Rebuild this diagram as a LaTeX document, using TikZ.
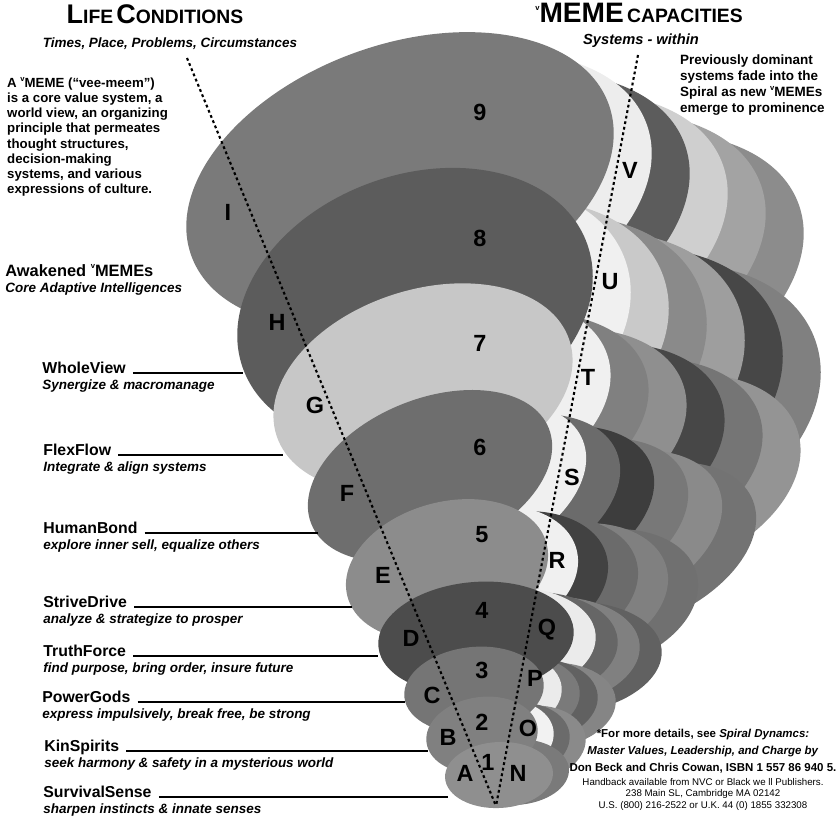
\documentclass[tikz,border=0pt]{standalone}
\usepackage{fontspec}
\setmainfont{Liberation Sans}
\usetikzlibrary{positioning}

\newcommand{\vsup}{\raisebox{0.45em}{\fontsize{6.5}{7}\selectfont v}} % the little v in front of MEME
\newcommand{\capbig}[1]{{\fontsize{23}{24}\selectfont #1}}
\newcommand{\capsmall}[1]{{\fontsize{16.5}{18}\selectfont #1}}

\tikzset{
    heading/.style={font=\bfseries, inner sep=0pt}, % the two column titles
    heading note/.style={font=\bfseries\itshape\fontsize{11.5}{13}\selectfont, inner sep=0pt}, % italic line under a title
    blurb/.style={font=\bfseries\fontsize{11.3}{13}\selectfont, align=left, inner sep=0pt}, % free text blocks
    level name/.style={font=\bfseries\fontsize{13.5}{15}\selectfont, anchor=base west, inner sep=1pt, text height=10pt, text depth=3pt}, % name of a vMEME
    level note/.style={font=\bfseries\itshape\fontsize{11.5}{13}\selectfont, anchor=north west, inner sep=1pt, text height=9pt, text depth=3pt}, % what it does
    leader/.style={line width=1.3pt, shorten <=5pt}, % line from a name to the spiral
    axis/.style={line width=1.8pt, dash pattern=on 2.4pt off 2.4pt}, % the two dotted lines
    spiral letter/.style={font=\bfseries\fontsize{20}{20}\selectfont, inner sep=0pt}, % letters and numbers on the spiral
}

\begin{document}
\begin{tikzpicture}[x=0.03cm, y=-0.03cm]
    \useasboundingbox (0,0) rectangle (839,818);

    % Spiral: trailing bands of each level, far ones first
    \foreach \k/\tone in {5/black!45, 4/black!36, 3/black!19, 2/black!64, 1/black!7}
        \fill[fill=\tone, shift={(38*\k,20*\k)}, rotate around={20:(400,180)}] (400,180) ellipse [x radius=222, y radius=135];
    \foreach \k/\tone in {6/black!50, 5/black!72, 4/black!38, 3/black!46, 2/black!21, 1/black!6}
        \fill[fill=\tone, shift={(38*\k,16*\k)}, rotate around={20:(415,306)}] (415,306) ellipse [x radius=183, y radius=131];
    \foreach \k/\tone in {6/black!42, 5/black!54, 4/black!72, 3/black!44, 2/black!50, 1/black!6}
        \fill[fill=\tone, shift={(38*\k,15*\k)}, rotate around={18:(423,388)}] (423,388) ellipse [x radius=154, y radius=98];
    \foreach \k/\tone in {6/black!55, 5/black!46, 4/black!53, 3/black!76, 2/black!58, 1/black!6}
        \fill[fill=\tone, shift={(34*\k,12*\k)}, rotate around={22:(430,476)}] (430,476) ellipse [x radius=128, y radius=77];
    \foreach \k/\tone in {5/black!56, 4/black!50, 3/black!58, 2/black!74, 1/black!6}
        \fill[fill=\tone, shift={(30*\k,6*\k)}, rotate around={15:(447,570)}] (447,570) ellipse [x radius=103, y radius=68];
    \foreach \k/\tone in {4/black!62, 3/black!50, 2/black!60, 1/black!8}
        \fill[fill=\tone, shift={(22*\k,5*\k)}, rotate around={5:(476,638)}] (476,638) ellipse [x radius=98, y radius=56];
    \foreach \k/\tone in {4/black!48, 3/black!62, 2/black!52, 1/black!8}
        \fill[fill=\tone, shift={(18*\k,4*\k)}, rotate around={6:(474,690)}] (474,690) ellipse [x radius=70, y radius=43];
    \foreach \k/\tone in {3/black!46, 2/black!58, 1/black!5}
        \fill[fill=\tone, shift={(16*\k,3*\k)}, rotate around={8:(482,735)}] (482,735) ellipse [x radius=56, y radius=38];
    \fill[black!52, shift={(16,-3)}, rotate around={3:(499,775)}] (499,775) ellipse [x radius=54, y radius=33];

    % Spiral: front faces, top level first
    \fill[black!52, rotate around={20:(400,180)}] (400,180) ellipse [x radius=222, y radius=135];
    \fill[black!64, rotate around={20:(415,306)}] (415,306) ellipse [x radius=183, y radius=131];
    \fill[black!22, rotate around={18:(423,388)}] (423,388) ellipse [x radius=154, y radius=98];
    \fill[black!57, rotate around={22:(430,476)}] (430,476) ellipse [x radius=128, y radius=77];
    \fill[black!45, rotate around={15:(447,570)}] (447,570) ellipse [x radius=103, y radius=68];
    \fill[black!70, rotate around={5:(476,638)}] (476,638) ellipse [x radius=98, y radius=56];
    \fill[black!54, rotate around={6:(474,690)}] (474,690) ellipse [x radius=70, y radius=43];
    \fill[black!50, rotate around={8:(482,735)}] (482,735) ellipse [x radius=56, y radius=38];
    \fill[black!44, rotate around={3:(499,775)}] (499,775) ellipse [x radius=54, y radius=33];

    % dotted lines
    \coordinate (life top) at (187,58);
    \coordinate (capacity top) at (638,55);
    \coordinate (apex) at (496,806);
    \draw[axis] (life top) -- (apex);
    \draw[axis] (capacity top) -- (apex);

    % letters and numbers on the spiral
    \foreach \t/\x/\y in {9/480/112, 8/480/238, 7/480/343, 6/480/447, 5/482/535, 4/482/610, 3/482/670, 2/482/722, 1/488/762}
        \node[spiral letter] (level \t) at (\x,\y) {\t};
    \foreach \t/\x/\y in {I/228/212, H/277/322, G/315/405, F/347/493, E/383/575, D/411/638, C/432/695, B/448/737, A/465/773}
        \node[spiral letter] (condition \t) at (\x,\y) {\t};
    \foreach \t/\x/\y in {V/630/170, U/610/282, T/588/377, S/572/477, R/557/560, Q/547/630, P/535/678, O/528/728, N/518/773}
        \node[spiral letter] (capacity \t) at (\x,\y) {\t};

    % titles
    \node[heading, anchor=base] (life) at (155,24) {\capbig{L}\capsmall{IFE} \capbig{C}\capsmall{ONDITIONS}};
    \node[heading note, anchor=base] (life note) at (170,48) {Times, Place, Problems, Circumstances};
    \node[heading, anchor=base] (capacity) at (639,23) {{\fontsize{24}{24}\selectfont\vsup MEME} \capsmall{CAPACITIES}};
    \node[heading note, anchor=base, font=\bfseries\itshape\fontsize{12.5}{14}\selectfont] (capacity note) at (641,45) {Systems - within};

    % text blocks
    \node[blurb, anchor=north west] (definition) at (7,77) {A \vsup MEME (``vee-meem'')\\is a core value system, a\\world view, an organizing\\principle that permeates\\thought structures,\\decision-making\\systems, and various\\expressions of culture.};
    \node[blurb, anchor=north west, font=\bfseries\fontsize{11.5}{13.4}\selectfont] (fade) at (680,55) {Previously dominant\\systems fade into the\\Spiral as new \vsup MEMEs\\emerge to prominence};
    \node[level name, font=\bfseries\fontsize{14}{16}\selectfont] (awakened) at (4,276) {Awakened \vsup MEMEs};
    \node[level note] (awakened note) at (awakened.south west) {Core Adaptive Intelligences};

    \node[blurb, align=center, anchor=north, font=\bfseries\fontsize{9.8}{14.5}\selectfont] (details) at (703,729) {*For more details, see \textit{Spiral Dynamcs:}\\\textit{Master Values, Leadership, and Charge by}\\Don Beck and Chris Cowan, ISBN 1 557 86 940 5.};
    \node[align=center, inner sep=0pt, font=\fontsize{8.3}{9.8}\selectfont, below=4pt of details] (publisher) {Handback available from NVC or Black we ll Publishers.\\238 Main SL, Cambridge MA 02142\\U.S. (800) 216-2522 or U.K. 44 (0) 1855 332308};

    % vMEME names
    \node[level name] (wholeview) at (41,373) {WholeView};
    \node[level note] (wholeview note) at (wholeview.south west) {Synergize \& macromanage};
    \node[level name] (flexflow) at (42,455) {FlexFlow};
    \node[level note] (flexflow note) at (flexflow.south west) {Integrate \& align systems};
    \node[level name] (humanbond) at (42,533) {HumanBond};
    \node[level note] (humanbond note) at (humanbond.south west) {explore inner sell, equalize others};
    \node[level name] (strivedrive) at (42,607) {StriveDrive};
    \node[level note] (strivedrive note) at (strivedrive.south west) {analyze \& strategize to prosper};
    \node[level name] (truthforce) at (42,656) {TruthForce};
    \node[level note] (truthforce note) at (truthforce.south west) {find purpose, bring order, insure future};
    \node[level name] (powergods) at (41,702) {PowerGods};
    \node[level note] (powergods note) at (powergods.south west) {express impulsively, break free, be strong};
    \node[level name] (kinspirits) at (43,751) {KinSpirits};
    \node[level note] (kinspirits note) at (kinspirits.south west) {seek harmony \& safety in a mysterious world};
    \node[level name] (survivalsense) at (42,797) {SurvivalSense};
    \node[level note] (survivalsense note) at (survivalsense.south west) {sharpen instincts \& innate senses};

    % leaders
    \coordinate (wholeview end) at (243,372);
    \coordinate (flexflow end) at (283,454);
    \coordinate (humanbond end) at (318,532);
    \coordinate (strivedrive end) at (352,606);
    \coordinate (truthforce end) at (378,655);
    \coordinate (powergods end) at (405,701);
    \coordinate (kinspirits end) at (428,750);
    \coordinate (survivalsense end) at (448,796);
    \foreach \n in {wholeview, flexflow, humanbond, strivedrive, truthforce, powergods, kinspirits, survivalsense}
        \draw[leader] (\n.base east) -- (\n.base east -| \n\space end);
\end{tikzpicture}
\end{document}
